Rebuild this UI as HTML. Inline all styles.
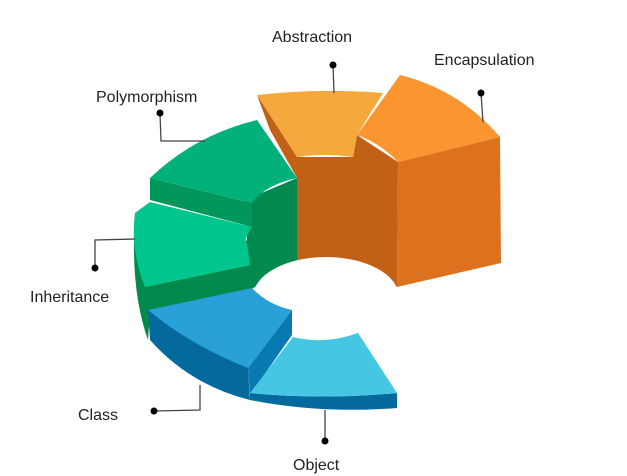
<!DOCTYPE html>
<html><head><meta charset="utf-8"><style>
html,body{margin:0;padding:0;background:#fff;}
svg{display:block;}
text{font-family:"Liberation Sans",sans-serif;font-size:16px;fill:#222;}
</style></head><body>
<svg width="627" height="476" viewBox="0 0 627 476" xmlns="http://www.w3.org/2000/svg">
<!-- dark green outer wall (left) -->
<path d="M135,213 Q130,290 148,340 L150,312 L145,287 Z" fill="#028a4e"/>
<!-- dark green inner wall -->
<path d="M245,200 L297,178 L297,262 L250,290 L250,265 Q240,245 247,240 Z" fill="#028a4e"/>
<!-- dark orange inner wall -->
<path d="M297,157 L353,157 L357,135 L398,162 L397,287 L297,262 Z" fill="#c06116"/>
<!-- Abstraction side -->
<path d="M257,95 L297,157 L297,178 L270,130 Z" fill="#c06116"/>
<!-- Abstraction top -->
<path d="M257,95 Q320,88 383,93 L357,135 L353,157 Q325,153 297,157 Z" fill="#f5a93c"/>
<!-- Encapsulation front -->
<path d="M398,162 L500,137 L501,263 L397,287 Z" fill="#dd721e"/>
<!-- Encapsulation top -->
<path d="M400,75 Q460,90 500,137 L398,162 Q380,143 357,135 Z" fill="#fb9530"/>
<!-- Polymorphism front -->
<path d="M150,178 L252,203 L252,227 L150,200 Z" fill="#02975a"/>
<!-- Polymorphism top -->
<path d="M150,178 Q195,135 257,120 L297,178 Q265,185 252,203 Z" fill="#02b07a"/>
<!-- Inheritance top -->
<path d="M150,202 L252,227 Q243,240 247,244 L250,265 L145,287 Q130,250 135,213 Z" fill="#00c68d"/>
<!-- Inheritance front band -->
<path d="M145,287 L250,265 L250,290 L148,312 Z" fill="#028a4e"/>
<!-- hole -->
<ellipse cx="326" cy="297" rx="73" ry="40" fill="#fff"/>
<!-- Class front -->
<path d="M148,310 L248,368 L250,400 Q190,385 150,340 Z" fill="#046a9e"/>
<path d="M248,368 L292,310 L292,335 L250,395 Z" fill="#0879b1"/>
<!-- Class top -->
<path d="M148,310 L252,288 Q268,305 292,310 L248,368 Q190,345 148,310 Z" fill="#2aa0d9"/>
<!-- Object bottom rim -->
<path d="M250,393 Q320,400 397,393 L397,408 Q320,414 250,400 Z" fill="#046a9e"/>
<!-- Object top -->
<path d="M250,393 L293,337 Q325,345 358,333 L397,393 Q320,400 250,393 Z" fill="#45c6e2"/>
<!-- connectors -->
<g stroke="#444" stroke-width="1.3" fill="none">
<path d="M333,65 L334,93"/>
<path d="M481,93 L483,122"/>
<path d="M160,113 L161,141 L205,141"/>
<path d="M95,268 L95,240 L135,239"/>
<path d="M154,411 L200,410 L200,385"/>
<path d="M325,441 L325,410"/>
</g>
<g fill="#000">
<circle cx="333" cy="65" r="3.5"/>
<circle cx="481" cy="93" r="3.5"/>
<circle cx="160" cy="113" r="3.5"/>
<circle cx="95" cy="268" r="3.5"/>
<circle cx="154" cy="411" r="3.5"/>
<circle cx="325" cy="441" r="3.5"/>
</g>
<text x="272" y="42">Abstraction</text>
<text x="434" y="65">Encapsulation</text>
<text x="96" y="102">Polymorphism</text>
<text x="30" y="302">Inheritance</text>
<text x="78" y="420">Class</text>
<text x="293" y="470">Object</text>
</svg>
</body></html>
